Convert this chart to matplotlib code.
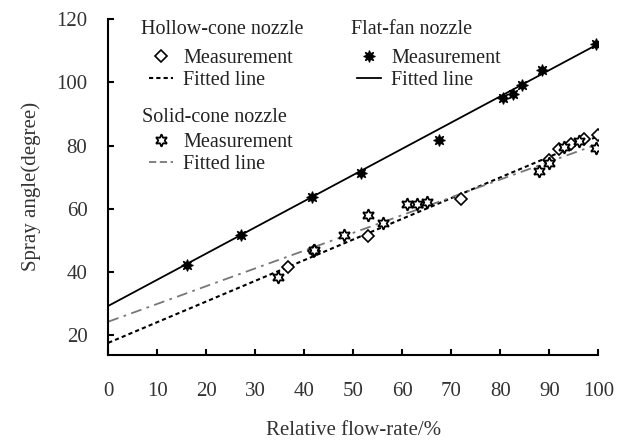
import matplotlib
matplotlib.use("Agg")
import matplotlib.pyplot as plt
import numpy as np
from matplotlib.lines import Line2D

plt.rcParams['font.family'] = ['Liberation Serif', 'DejaVu Serif']

# Data
flat_x = [16, 27, 41.5, 51.5, 67.5, 80.5, 82.5, 84.5, 88.5, 99.5]
flat_y = [42, 51.7, 63.8, 71.4, 81.8, 95.0, 96.4, 99.2, 104, 112.3]

hollow_x = [36.7, 42, 53, 72, 90, 92, 94.5, 97, 100]
hollow_y = [41.6, 46.5, 51.3, 63.0, 75.5, 79, 80.5, 82, 83.5]

solid_x = [34.7, 42, 48, 53, 56, 61, 63, 65, 88, 90, 93, 96, 99.5]
solid_y = [38.2, 46.8, 51.6, 58.0, 55.5, 61.5, 61.5, 62.0, 72, 74.5, 79.5, 81.5, 79.2]

fit_x = [0, 100]
flat_fit = [29.2, 112.2]
hollow_fit = [17.5, 83.0]
solid_fit = [24.2, 80.5]

xticks = [0, 10, 20, 30, 40, 50, 60, 70, 80, 90, 100]
yticks = [20, 40, 60, 80, 100, 120]

W, H = 626, 441
fig = plt.figure(figsize=(W/100, H/100), dpi=100)
ax = fig.add_axes([108.3/W, 1-354.5/H, (598.3-108.3)/W, (354.5-19.3)/H])

ax.plot(fit_x, flat_fit, color='black', lw=1.3, solid_capstyle='butt')
ax.plot(fit_x, hollow_fit, color='black', lw=1.5, linestyle=(0, (2, 1.5)))
ax.plot(fit_x, solid_fit, color='#777777', lw=1.3, linestyle=(0, (6, 3, 1.5, 3)))

ax.plot(hollow_x, hollow_y, linestyle='none', marker='D', ms=6.5, mfc='white', mec='black', mew=1.2)
ax.plot(solid_x, solid_y, linestyle='none', marker=(6, 1, 0), ms=9, mfc='white', mec='black', mew=1.3)
ax.plot(flat_x, flat_y, linestyle='none', marker=(8, 1, 0), ms=8.5, mfc='black', mec='black', mew=0.8)

ax.set_xlim(0, 100)
ax.set_ylim(13.8, 120)
ax.set_xticks(xticks)
ax.set_yticks(yticks)
ax.tick_params(direction='in', length=4, width=1.5, labelsize=15, colors='black',
               labelcolor='#333333')
ax.tick_params(axis='x', pad=20)
ax.tick_params(axis='y', pad=15)
for s in ['top', 'right']:
    ax.spines[s].set_visible(False)
for s in ['left', 'bottom']:
    ax.spines[s].set_linewidth(1.5)

ax.set_xlabel('Relative flow-rate/%', fontsize=15, labelpad=14, color='#333333')
ax.set_ylabel('Spray angle(degree)', fontsize=15, labelpad=11, color='#333333')

TFS = 14.5

def make_legend(title, mhandle, lhandle, title_xy, anchor):
    fig.text(title_xy[0]/W, 1-title_xy[1]/H, title, fontsize=TFS, ha='left', va='center',
             color='#222222')
    fig.legend([mhandle, lhandle], ['Measurement', 'Fitted line'],
               loc='upper left', bbox_to_anchor=(anchor[0]/W, 1-anchor[1]/H),
               bbox_transform=fig.transFigure, labelcolor='#222222',
               frameon=False, fontsize=TFS, handlelength=1.2, handletextpad=0.5,
               labelspacing=0.12, borderpad=0, borderaxespad=0)

h1 = Line2D([], [], linestyle='none', marker='D', ms=6.5, mfc='white', mec='black', mew=1.2)
l1 = Line2D([], [], color='black', lw=1.5, linestyle=(0, (2, 1.5)))
h2 = Line2D([], [], linestyle='none', marker=(6, 1, 0), ms=9, mfc='white', mec='black', mew=1.3)
l2 = Line2D([], [], color='#777777', lw=1.3, linestyle=(0, (4, 2)))
h3 = Line2D([], [], linestyle='none', marker=(8, 1, 0), ms=8.5, mfc='black', mec='black', mew=0.8)
l3 = Line2D([], [], color='black', lw=1.3)

make_legend('Hollow-cone nozzle', h1, l1, (141, 29), (149, 49))
make_legend('Solid-cone nozzle', h2, l2, (142, 117), (149, 133))
make_legend('Flat-fan nozzle', h3, l3, (351, 29), (357, 49))

fig.savefig('out.png', dpi=100)
